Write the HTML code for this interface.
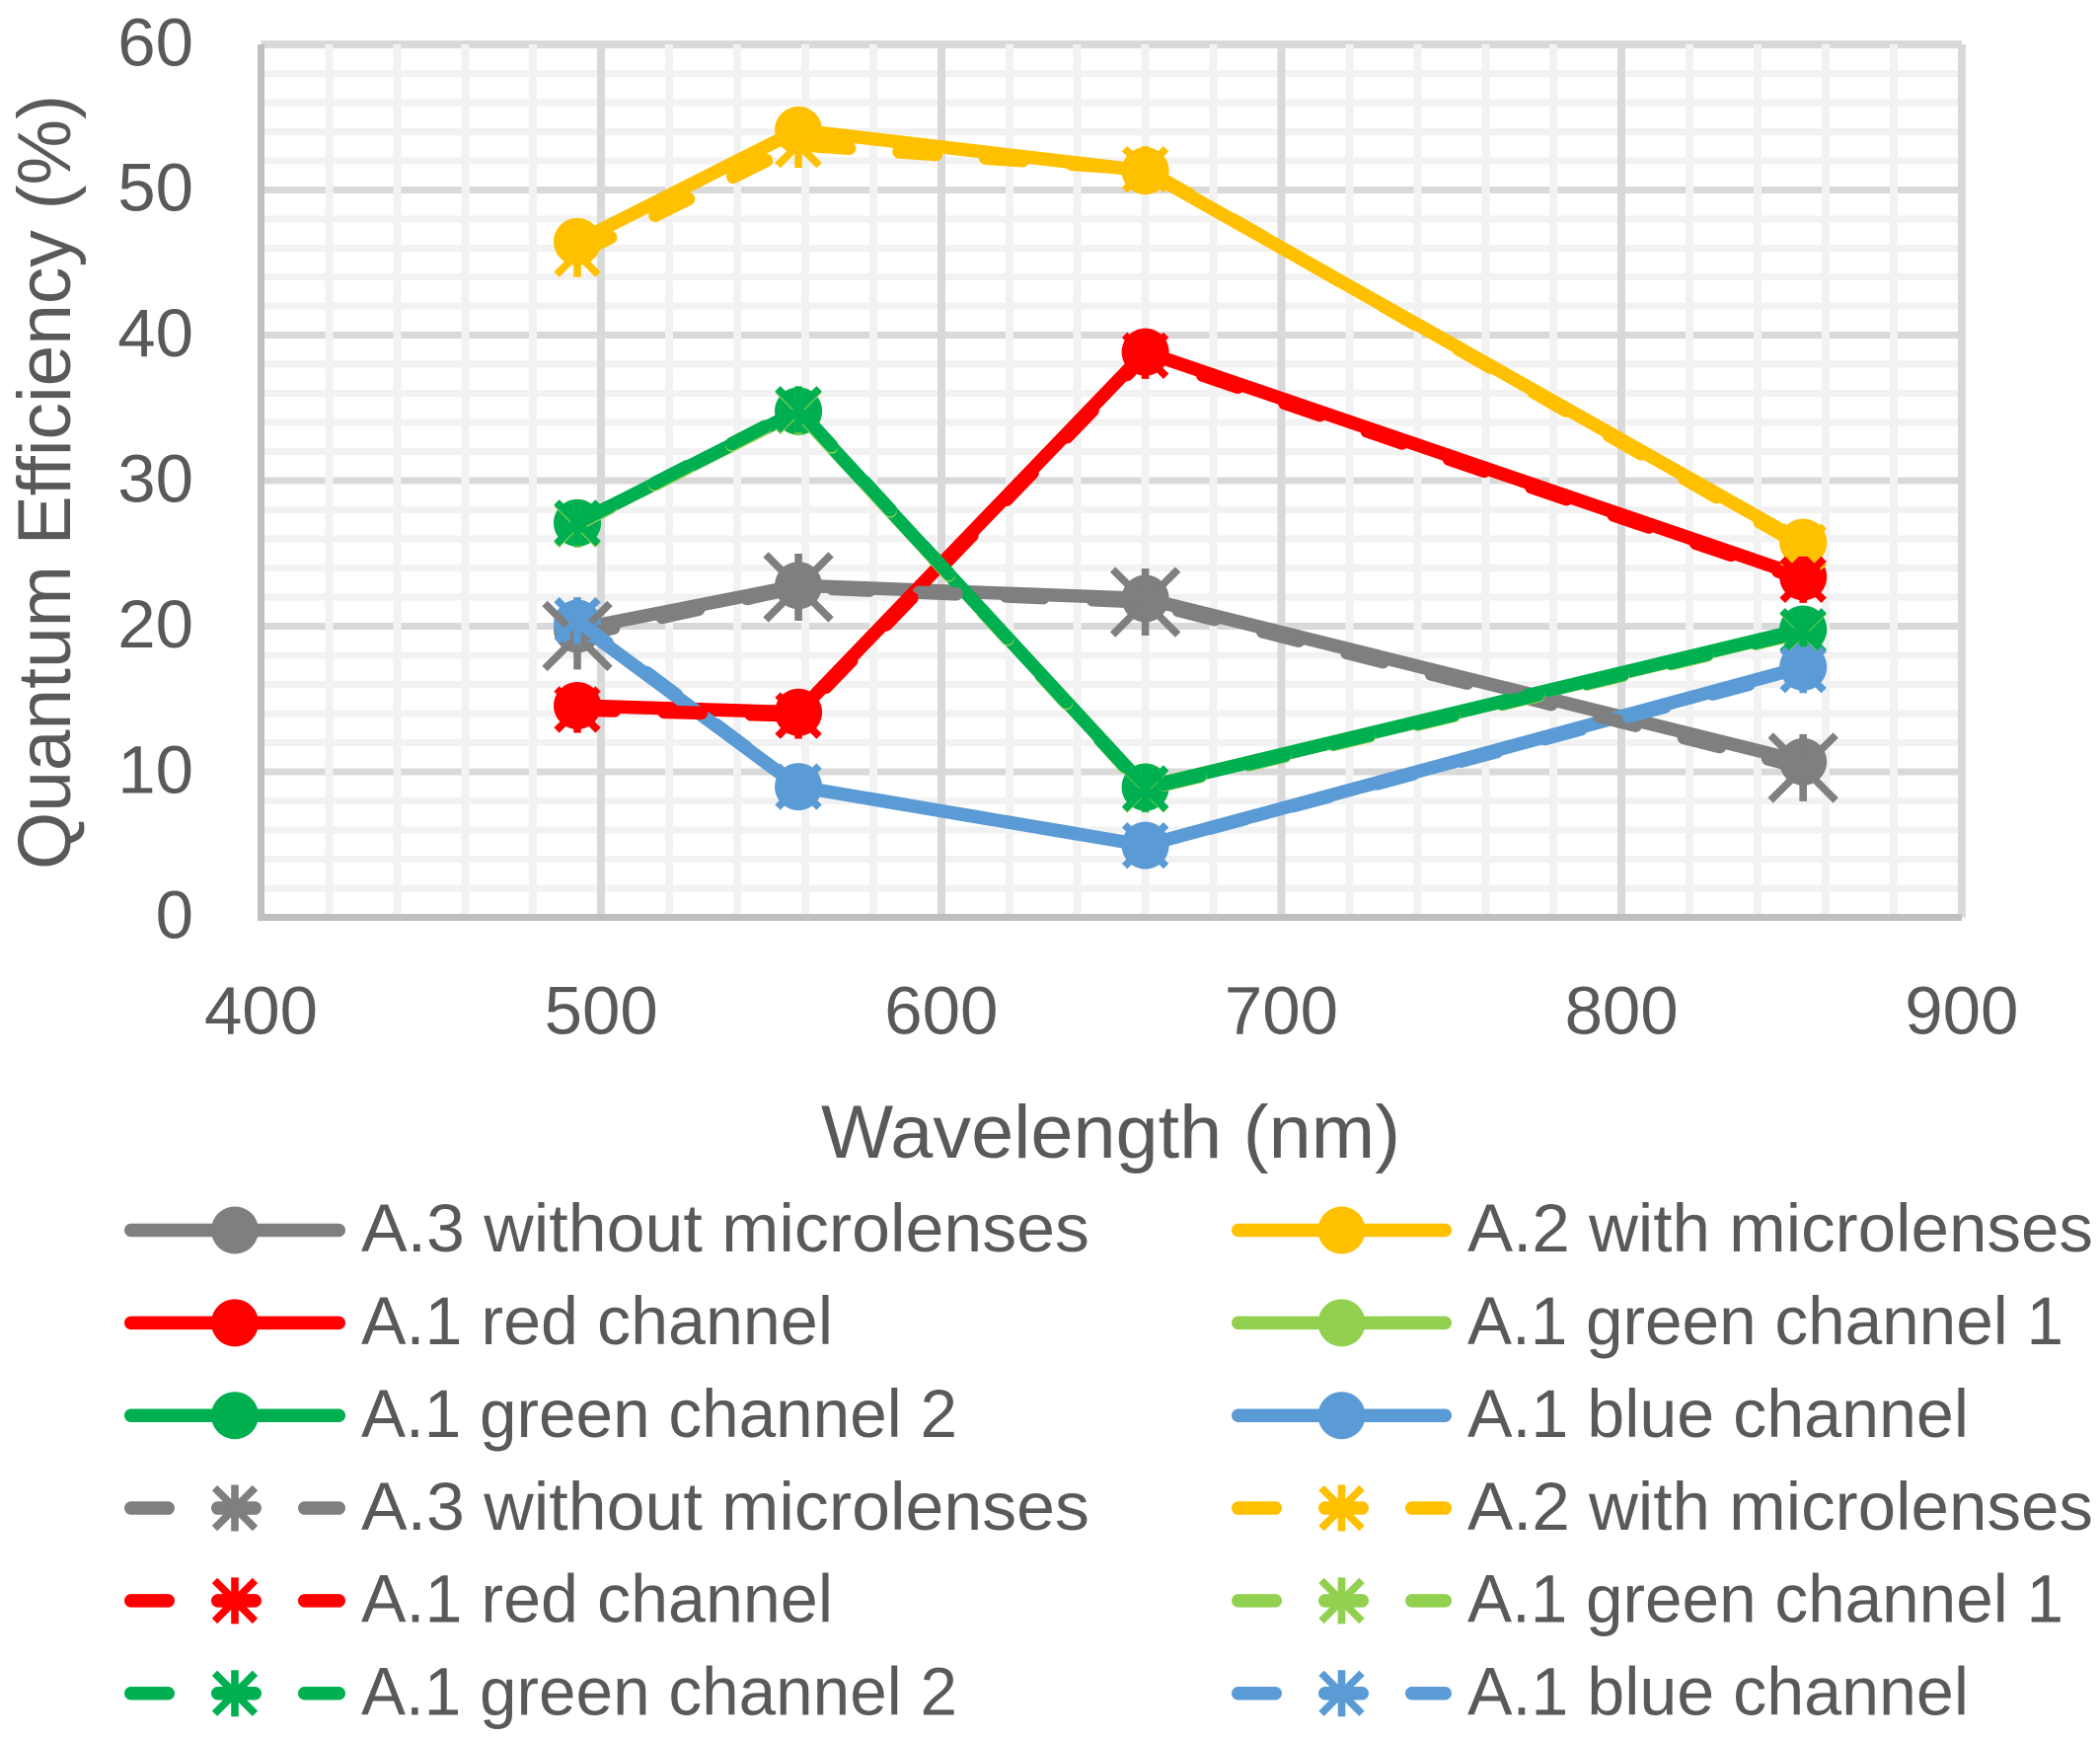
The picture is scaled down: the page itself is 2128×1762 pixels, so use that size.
<!DOCTYPE html>
<html lang="en">
<head>
<meta charset="utf-8">
<title>Quantum Efficiency vs Wavelength</title>
<style>
  html, body { margin: 0; padding: 0; background: #ffffff; }
  svg { display: block; }
  text { font-family: "Liberation Sans", sans-serif; fill: #595959; }
</style>
</head>
<body>
<svg id="chart" xmlns="http://www.w3.org/2000/svg" width="2128" height="1762" viewBox="0 0 2128 1762">
  <rect x="0" y="0" width="2128" height="1762" fill="#ffffff"/>
  <g id="grid"></g>
  <g id="ticks"></g>
  <text x="832" y="1173" font-size="76" textLength="587" lengthAdjust="spacingAndGlyphs">Wavelength (nm)</text>
  <text transform="translate(71 881) rotate(-90)" x="0" y="0" font-size="76" textLength="785" lengthAdjust="spacingAndGlyphs">Quantum Efficiency (%)</text>
  <g id="series"></g>
  <g id="legend"></g>
</svg>
<script>
// ---- chart data ----
const wavelengths = [493, 558, 660, 853.4];
const xTicks = [400, 500, 600, 700, 800, 900];
const yTicks = [0, 10, 20, 30, 40, 50, 60];
const xMinorStep = 20;
const yMinorStep = 2;

const seriesNames = ["A.3 without microlenses", "A.2 with microlenses", "A.1 red channel", "A.1 green channel 1", "A.1 green channel 2", "A.1 blue channel"];
const seriesColors = ["#7f7f7f", "#ffc000", "#ff0000", "#92d050", "#00b050", "#5b9bd5"];

const solidGray = [19.8, 22.8, 21.9, 10.68];
const solidYellow = [46.43, 54.1, 51.3, 25.76];
const solidRed = [14.54, 14.08, 38.85, 23.4];
const solidLime = [27.1, 34.75, 8.95, 19.75];
const solidGreen = [27.1, 34.8, 8.93, 19.8];
const solidBlue = [20.2, 8.97, 4.93, 17.2];

const dashedGray = [19.33, 22.68, 21.66, 10.27];
const dashedYellow = [45.6, 53.1, 51.4, 25.46];
const dashedRed = [14.27, 13.86, 38.6, 23.2];
const dashedLime = [27.0, 34.8, 8.78, 19.58];
const dashedGreen = [27.1, 34.9, 8.84, 19.65];
const dashedBlue = [20.4, 8.97, 4.93, 17.0];

const solidValues = [solidGray, solidYellow, solidRed, solidLime, solidGreen, solidBlue];
const dashedValues = [dashedGray, dashedYellow, dashedRed, dashedLime, dashedGreen, dashedBlue];

// ---- axis functions ----
const xMin = 400, xMax = 900, yMin = 0, yMax = 60;
const plotLeft = 264.5, plotRight = 1987.8, plotTop = 44.9, plotBottom = 929.3;
function xScale(w) { return plotLeft + (w - xMin) * (plotRight - plotLeft) / (xMax - xMin); }
function yScale(v) { return plotBottom - (v - yMin) * (plotBottom - plotTop) / (yMax - yMin); }

const NS = "http://www.w3.org/2000/svg";
function make(tag, parent, attrs) {
  const el = document.createElementNS(NS, tag);
  for (const k in attrs) el.setAttribute(k, attrs[k]);
  parent.appendChild(el);
  return el;
}

// ---- gridlines ----
const grid = document.getElementById("grid");
function gridLine(x1, y1, x2, y2, color, width) {
  const l = make("line", grid, { x1: x1, y1: y1, x2: x2, y2: y2, stroke: color, "stroke-width": width, "shape-rendering": "crispEdges" });
  
  
}
for (let v = yMin; v <= yMax; v += yMinorStep) {
  if (v % 10 !== 0) gridLine(plotLeft, yScale(v), plotRight, yScale(v), "#f2f2f2", 7);
}
yTicks.forEach(function (v) {
  if (v !== yMin) gridLine(plotLeft, yScale(v), plotRight, yScale(v), "#d9d9d9", v === yMax ? 8 : 7);
});
for (let w = xMin; w <= xMax; w += xMinorStep) {
  if (w % 100 !== 0) gridLine(xScale(w), plotTop, xScale(w), plotBottom, "#f2f2f2", 8);
}
xTicks.forEach(function (w) {
  if (w !== xMin) gridLine(xScale(w), plotTop, xScale(w), plotBottom, "#d9d9d9", 8);
});
const yAxisLine = make("line", grid, { x1: plotLeft, y1: plotTop, x2: plotLeft, y2: plotBottom + 3, stroke: "#bfbfbf", "stroke-width": 7, "shape-rendering": "crispEdges" });


const xAxisLine = make("line", grid, { x1: plotLeft - 3.5, y1: plotBottom, x2: plotRight, y2: plotBottom, stroke: "#bfbfbf", "stroke-width": 7, "shape-rendering": "crispEdges" });



// ---- tick labels ----
const ticks = document.getElementById("ticks");
yTicks.forEach(function (v) {
  const t = make("text", ticks, { x: 196, y: yScale(v) + 21.4, "font-size": 69, "text-anchor": "end" });
  t.textContent = String(v);
  
  
});
xTicks.forEach(function (w) {
  const t = make("text", ticks, { x: xScale(w), y: 1047.5, "font-size": 69, "text-anchor": "middle" });
  t.textContent = String(w);
  
  
});

// ---- marks ----
const lineWidth = 13.5;
const dashPattern = "37.5 50.5";
function drawCircle(parent, cx, cy, color) {
  const c = make("circle", parent, { cx: cx, cy: cy, r: 24, fill: color });
  
  
}
function drawStar(parent, cx, cy, color, armV, armD) {
  const d = "M" + (cx - armD) + " " + (cy - armD) + "L" + (cx + armD) + " " + (cy + armD) +
            "M" + (cx - armD) + " " + (cy + armD) + "L" + (cx + armD) + " " + (cy - armD) +
            "M" + cx + " " + (cy - armV) + "L" + cx + " " + (cy + armV);
  const p = make("path", parent, { d: d, fill: "none", stroke: color, "stroke-width": 7.6 });
  
  
}

const seriesLayer = document.getElementById("series");
function drawSeries(values, color, name, dashed, armV, armD) {
  const g = make("g", seriesLayer, {});
  
  
  const pts = values.map(function (v, i) { return xScale(wavelengths[i]) + "," + yScale(v); }).join(" ");
  const attrs = { points: pts, fill: "none", stroke: color, "stroke-width": lineWidth, "stroke-linecap": "round", "stroke-linejoin": "round" };
  if (dashed) attrs["stroke-dasharray"] = dashPattern;
  const line = make("polyline", g, attrs);
  
  
  values.forEach(function (v, i) {
    if (dashed) drawStar(g, xScale(wavelengths[i]), yScale(v), color, armV, armD);
    else drawCircle(g, xScale(wavelengths[i]), yScale(v), color);
  });
}
solidValues.forEach(function (vals, i) {
  drawSeries(vals, seriesColors[i], "solid-series-" + (i + 1), false, 0, 0);
});
dashedValues.forEach(function (vals, i) {
  const big = i === 0;
  drawSeries(vals, seriesColors[i], "dashed-series-" + (i + 1), true, big ? 34 : 23.5, big ? 33 : 21);
});

// ---- legend ----
const legend = document.getElementById("legend");
const legendColumnLeft = [126, 1248];
const legendColumnRight = [350, 1471];
const legendColumnText = [366, 1487];
const legendTextWidths = { "A.3 without microlenses": 738, "A.2 with microlenses": 634, "A.1 red channel": 478, "A.1 green channel 1": 604, "A.1 green channel 2": 604, "A.1 blue channel": 508 };
const legendFirstRow = 1246.5, legendRowGap = 93.85;

function drawLegendEntry(index, dashed) {
  const col = index % 2;
  const row = Math.floor(index / 2) + (dashed ? 3 : 0);
  const cy = legendFirstRow + row * legendRowGap;
  const x1 = legendColumnLeft[col], x2 = legendColumnRight[col];
  const g = make("g", legend, {});
  
  
  const attrs = { x1: x1 + lineWidth / 2, y1: cy, x2: x2 - lineWidth / 2, y2: cy, stroke: seriesColors[index], "stroke-width": lineWidth, "stroke-linecap": "round" };
  if (dashed) attrs["stroke-dasharray"] = dashPattern;
  const line = make("line", g, attrs);
  
  
  const cx = (x1 + x2) / 2;
  if (dashed) drawStar(g, cx, cy, seriesColors[index], 23.5, 20.5);
  else drawCircle(g, cx, cy, seriesColors[index]);
  const t = make("text", g, { x: legendColumnText[col], y: cy + 21.7, "font-size": 69, textLength: legendTextWidths[seriesNames[index]], lengthAdjust: "spacingAndGlyphs" });
  t.textContent = seriesNames[index];
  
  
}
seriesNames.forEach(function (n, i) { drawLegendEntry(i, false); });
seriesNames.forEach(function (n, i) { drawLegendEntry(i, true); });
</script>
</body>
</html>
